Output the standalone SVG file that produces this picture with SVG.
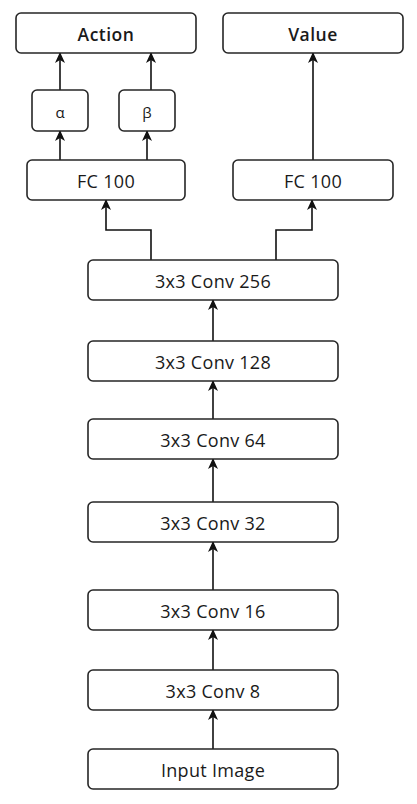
<svg xmlns="http://www.w3.org/2000/svg" width="417" height="804" viewBox="0 0 417 804">
<defs>
<style>
.box{fill:#ffffff;stroke:#262626;stroke-width:1.6}
.t{font-family:"Open Sans","Noto Sans","Liberation Sans",sans-serif;font-size:18px;letter-spacing:0.3px;fill:#1a1a1a;text-anchor:middle;dominant-baseline:central}
.h{font-weight:600;font-size:17.5px;letter-spacing:0.5px}
.g{font-size:15px;letter-spacing:0}
.c{fill:none;stroke:#111111;stroke-width:1.6;marker-end:url(#arr)}
</style>
<marker id="arr" viewBox="0 0 11 10" refX="10" refY="5" markerWidth="11" markerHeight="10" markerUnits="userSpaceOnUse" orient="auto">
<path d="M0,0 L11,5 L0,10 L3,5 Z" fill="#111111"/>
</marker>
</defs>
<rect width="417" height="804" fill="#ffffff"/>
<g id="connectors">
<line class="c" x1="60" y1="90" x2="60" y2="53"/>
<line class="c" x1="151" y1="90" x2="151" y2="53"/>
<line class="c" x1="60" y1="160" x2="60" y2="131"/>
<line class="c" x1="147" y1="160" x2="147" y2="131"/>
<line class="c" x1="313" y1="160" x2="313" y2="53"/>
<polyline class="c" points="151,260 151,230 106,230 106,200"/>
<polyline class="c" points="276,260 276,230 312,230 312,200"/>
<line class="c" x1="213" y1="341" x2="213" y2="300"/>
<line class="c" x1="213" y1="419" x2="213" y2="381"/>
<line class="c" x1="213" y1="502" x2="213" y2="459"/>
<line class="c" x1="213" y1="590" x2="213" y2="542"/>
<line class="c" x1="213" y1="670" x2="213" y2="630"/>
<line class="c" x1="213" y1="749" x2="213" y2="710"/>
</g>
<g id="action"><rect class="box" x="16" y="13" width="180" height="40" rx="5"/><text class="t h" x="106" y="34">Action</text></g>
<g id="value"><rect class="box" x="223" y="13" width="180" height="40" rx="5"/><text class="t h" x="313" y="34">Value</text></g>
<g id="alpha"><rect class="box" x="32" y="90" width="56" height="41" rx="5"/><text class="t g" x="60" y="112">α</text></g>
<g id="beta"><rect class="box" x="119" y="90" width="56" height="41" rx="5"/><text class="t g" x="147" y="112">β</text></g>
<g id="fc-left"><rect class="box" x="27" y="160" width="158" height="40" rx="5"/><text class="t" x="106" y="181">FC 100</text></g>
<g id="fc-right"><rect class="box" x="233" y="160" width="160" height="40" rx="5"/><text class="t" x="313" y="181">FC 100</text></g>
<g id="conv256"><rect class="box" x="88" y="260" width="250" height="40" rx="5"/><text class="t" x="213" y="281">3x3 Conv 256</text></g>
<g id="conv128"><rect class="box" x="88" y="341" width="250" height="40" rx="5"/><text class="t" x="213" y="362">3x3 Conv 128</text></g>
<g id="conv64"><rect class="box" x="88" y="419" width="250" height="40" rx="5"/><text class="t" x="213" y="440">3x3 Conv 64</text></g>
<g id="conv32"><rect class="box" x="88" y="502" width="250" height="40" rx="5"/><text class="t" x="213" y="523">3x3 Conv 32</text></g>
<g id="conv16"><rect class="box" x="88" y="590" width="250" height="40" rx="5"/><text class="t" x="213" y="611">3x3 Conv 16</text></g>
<g id="conv8"><rect class="box" x="88" y="670" width="250" height="40" rx="5"/><text class="t" x="213" y="691">3x3 Conv 8</text></g>
<g id="input"><rect class="box" x="88" y="749" width="250" height="40" rx="5"/><text class="t" x="213" y="770">Input Image</text></g>
</svg>
